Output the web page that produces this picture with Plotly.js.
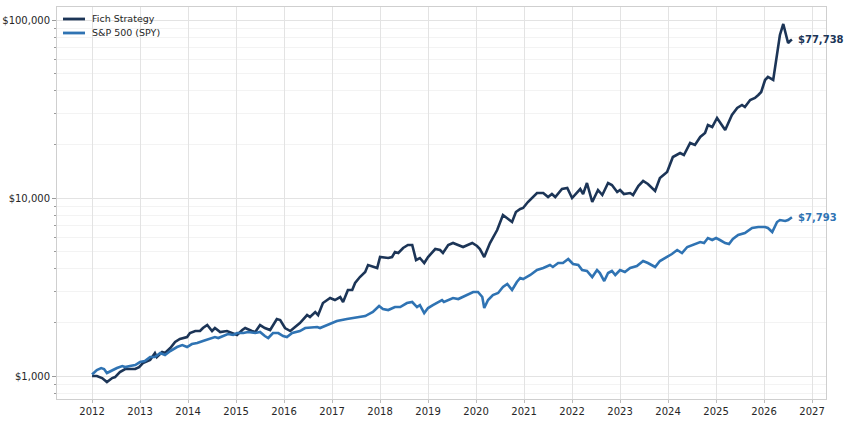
<!DOCTYPE html>
<html>
<head>
<meta charset="utf-8">
<script src="https://cdn.plot.ly/plotly-3.0.1.min.js"></script>
<style>
html,body{margin:0;padding:0;background:#fff;}
#chart{width:846px;height:422px;}
</style>
</head>
<body>
<div id="chart"></div>
<script>
// ---- data ----
const seriesNames = ["Fich Strategy", "S&P 500 (SPY)"];

const fichYears = [2012.00,2012.10,2012.21,2012.31,2012.42,2012.48,2012.58,2012.69,2012.90,2012.98,
2013.06,2013.21,2013.31,2013.35,2013.46,2013.52,2013.63,2013.73,2013.83,2013.98,
2014.04,2014.15,2014.25,2014.31,2014.40,2014.50,2014.56,2014.67,2014.81,2014.92,
2015.02,2015.13,2015.19,2015.33,2015.40,2015.50,2015.60,2015.71,2015.85,2015.92,
2016.02,2016.13,2016.23,2016.33,2016.48,2016.54,2016.65,2016.71,2016.81,2016.96,
2017.06,2017.17,2017.23,2017.33,2017.42,2017.48,2017.58,2017.69,2017.75,2017.83,2017.94,
2018.00,2018.17,2018.25,2018.31,2018.38,2018.48,2018.58,2018.67,2018.75,2018.83,2018.92,
2019.00,2019.15,2019.25,2019.31,2019.42,2019.52,2019.63,2019.73,2019.92,
2020.02,2020.08,2020.17,2020.29,2020.44,2020.56,2020.75,2020.83,2020.92,2020.98,
2021.08,2021.27,2021.40,2021.50,2021.58,2021.65,2021.79,2021.90,
2022.00,2022.17,2022.23,2022.31,2022.42,2022.54,2022.63,2022.75,2022.83,2022.94,
2023.00,2023.08,2023.21,2023.27,2023.38,2023.48,2023.58,2023.73,2023.83,2023.98,
2024.10,2024.25,2024.33,2024.46,2024.56,2024.67,2024.77,2024.83,2024.92,
2025.02,2025.19,2025.33,2025.44,2025.54,2025.60,2025.71,2025.81,2025.88,2025.94,
2026.02,2026.08,2026.19,2026.27,2026.33,2026.40,2026.50,2026.54,2026.58];

const fichValues = [1000,1000,974,925,974,987,1053,1095,1095,1123,
1183,1230,1346,1279,1364,1346,1437,1553,1614,1656,
1744,1790,1790,1861,1934,1790,1861,1767,1790,1744,
1700,1813,1861,1790,1767,1934,1861,1813,2090,2064,
1861,1790,1885,1985,2201,2145,2289,2201,2571,2743,
2673,2779,2605,3042,3042,3331,3599,3840,4204,4150,4044,
4662,4602,4662,4974,4910,5238,5445,5445,4485,4602,4314,
4662,5170,5104,4910,5445,5588,5445,5306,5588,
5375,5170,4662,5588,6611,8027,7332,8345,8675,8788,
9496,10670,10670,10130,10531,10130,11235,11381,
10000,11235,10531,12142,9496,11090,10396,12142,11832,10807,
11090,10531,10670,10396,11680,12460,11986,10947,12953,13998,
16997,17899,17442,20371,19850,22015,23184,25714,25056,
28149,24100,29267,32037,33306,32455,35530,36461,37904,39404,
46023,47850,46023,65260,82375,94954,74273,76219,77738];

const spyYears = [2012.00,2012.10,2012.19,2012.25,2012.31,2012.42,2012.52,2012.63,2012.69,2012.79,2012.90,
2013.00,2013.10,2013.21,2013.31,2013.42,2013.52,2013.63,2013.77,2013.88,2013.98,
2014.08,2014.19,2014.31,2014.46,2014.56,2014.63,2014.73,2014.83,2014.94,
2015.02,2015.15,2015.25,2015.40,2015.50,2015.60,2015.67,2015.77,2015.88,2015.98,
2016.06,2016.17,2016.27,2016.33,2016.44,2016.69,2016.75,2016.96,
2017.10,2017.31,2017.52,2017.69,2017.85,2017.98,
2018.06,2018.17,2018.31,2018.42,2018.56,2018.67,2018.77,2018.83,2018.92,
2019.00,2019.10,2019.21,2019.29,2019.33,2019.42,2019.52,2019.63,2019.73,2019.88,2019.94,
2020.04,2020.13,2020.17,2020.25,2020.35,2020.46,2020.56,2020.65,2020.75,2020.85,2020.92,2020.98,
2021.13,2021.27,2021.40,2021.54,2021.60,2021.71,2021.81,2021.92,
2022.02,2022.13,2022.21,2022.31,2022.42,2022.52,2022.58,2022.67,2022.75,2022.83,2022.90,
2023.00,2023.10,2023.21,2023.35,2023.48,2023.58,2023.73,2023.83,2023.98,
2024.08,2024.19,2024.29,2024.40,2024.52,2024.67,2024.75,2024.83,2024.92,
2025.00,2025.08,2025.19,2025.27,2025.35,2025.46,2025.60,2025.75,2025.88,
2026.02,2026.08,2026.17,2026.27,2026.33,2026.44,2026.50,2026.58];

const spyValues = [1020,1081,1109,1095,1040,1081,1109,1138,1123,1138,1153,
1198,1214,1279,1279,1346,1312,1382,1455,1493,1455,
1512,1532,1573,1614,1656,1635,1678,1722,1700,
1744,1744,1767,1744,1767,1678,1635,1744,1744,1678,
1656,1744,1767,1790,1861,1885,1861,1960,
2037,2090,2145,2173,2289,2473,
2379,2348,2441,2441,2571,2605,2441,2505,2259,
2410,2505,2605,2673,2605,2673,2743,2707,2779,2889,2965,
2965,2779,2410,2673,2852,2926,3163,3288,3042,3374,3553,3507,
3694,3940,4044,4204,4097,4314,4314,4543,
4259,4204,3940,3890,3599,3940,3790,3418,3790,3890,3694,
3940,3840,4044,4150,4427,4314,4097,4427,4662,
4847,5104,4910,5306,5445,5660,5588,5961,5809,
5961,5809,5588,5516,5884,6197,6360,6784,6872,
6872,6784,6442,7332,7524,7427,7524,7793];

const yTickVals = [1000, 10000, 100000];
const yTickText = ["$1,000", "$10,000", "$100,000"];
const xTickVals = [2012,2013,2014,2015,2016,2017,2018,2019,2020,2021,2022,2023,2024,2025,2026,2027];

// ---- styling ----
const fichColor = "#1c3557";
const spyColor = "#2f73b3";
const fontFam = "DejaVu Sans, sans-serif";
const seriesColors = [fichColor, spyColor];

function money(v){ return "$" + Math.round(v).toLocaleString("en-US"); }

const traces = [
  {x: fichYears, y: fichValues, name: seriesNames[0], type: "scatter", mode: "lines",
   line: {color: fichColor, width: 2.6}},
  {x: spyYears, y: spyValues, name: seriesNames[1], type: "scatter", mode: "lines",
   line: {color: spyColor, width: 2.6}}
];

const fichLast = fichValues[fichValues.length-1];
const spyLast = spyValues[spyValues.length-1];

// compact legend (drawn in paper space, top-left of the plot)
const legendShapes = [];
const legendNotes = [];
const legTop = 0.9694, legStep = 0.0357;
seriesNames.forEach((nm, i) => {
  const yy = legTop - i * legStep;
  legendShapes.push({type: "line", xref: "paper", yref: "paper",
    x0: 0.0078, x1: 0.0364, y0: yy, y1: yy,
    line: {color: seriesColors[i], width: 2.8}});
  legendNotes.push({xref: "paper", yref: "paper", x: 0.0429, y: yy, text: nm,
    showarrow: false, xanchor: "left", yanchor: "middle",
    font: {family: fontFam, size: 9.5, color: "#262626"}});
});

const layout = {
  width: 846, height: 422,
  margin: {l: 57, r: 20, t: 7, b: 23},
  paper_bgcolor: "#fff", plot_bgcolor: "#fff",
  font: {family: fontFam, size: 10, color: "#262626"},
  showlegend: false,
  xaxis: {
    type: "linear", range: [2011.27, 2027.29],
    tickmode: "array", tickvals: xTickVals, ticktext: xTickVals.map(String),
    showgrid: true, gridcolor: "#e3e3e3", gridwidth: 1,
    zeroline: false, showline: true, mirror: true, linecolor: "#cfcfcf", linewidth: 1,
    ticks: "outside", ticklen: 3, tickcolor: "#bdbdbd",
    tickfont: {family: fontFam, size: 10, color: "#262626"}
  },
  yaxis: {
    type: "log", range: [2.871, 5.073],
    tickmode: "array", tickvals: yTickVals, ticktext: yTickText,
    showgrid: true, gridcolor: "#e3e3e3", gridwidth: 1,
    zeroline: false, showline: true, mirror: true, linecolor: "#cfcfcf", linewidth: 1,
    ticks: "outside", ticklen: 4, tickcolor: "#9a9a9a",
    tickfont: {family: fontFam, size: 10, color: "#262626"},
    minor: {dtick: "D1", ticks: "outside", ticklen: 2, tickcolor: "#9a9a9a",
            showgrid: true, gridcolor: "#f3f3f3", gridwidth: 1}
  },
  shapes: legendShapes,
  annotations: legendNotes.concat([
    {x: fichYears[fichYears.length-1], y: Math.log10(fichLast), xref: "x", yref: "y",
     text: "<b>" + money(fichLast) + "</b>", showarrow: false, xanchor: "left", yanchor: "middle",
     xshift: 4, font: {family: fontFam, size: 10, color: fichColor}},
    {x: spyYears[spyYears.length-1], y: Math.log10(spyLast), xref: "x", yref: "y",
     text: "<b>" + money(spyLast) + "</b>", showarrow: false, xanchor: "left", yanchor: "middle",
     xshift: 4, font: {family: fontFam, size: 10, color: spyColor}}
  ])
};

Plotly.newPlot("chart", traces, layout, {displayModeBar: false, staticPlot: true});
</script>
</body>
</html>
